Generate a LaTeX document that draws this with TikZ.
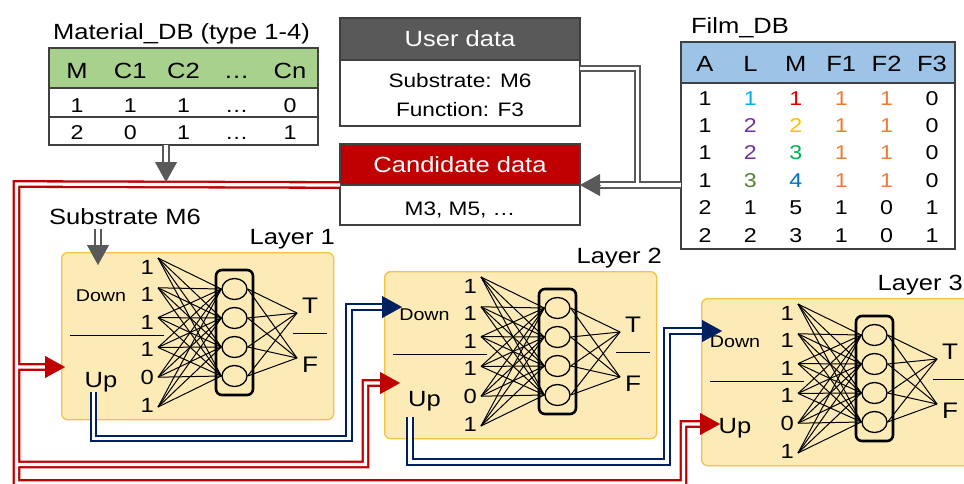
\documentclass[tikz,border=0pt]{standalone}
\usepackage{fontspec}
\setmainfont{Liberation Sans}[FakeStretch=1.16]
\usetikzlibrary{positioning,arrows.meta,shapes.geometric}

\definecolor{cred}{HTML}{C00000}
\definecolor{cgray}{HTML}{595959}
\definecolor{cblue}{HTML}{002060}
\definecolor{cframe}{HTML}{404040}
\definecolor{cgreen}{HTML}{A9D18E}
\definecolor{clblue}{HTML}{9DC3E6}
\definecolor{cyel}{HTML}{FDEBB7}
\definecolor{cgold}{HTML}{F5C242}
\definecolor{vcyan}{HTML}{00B0F0}
\definecolor{vred}{HTML}{E00000}
\definecolor{vorange}{HTML}{ED7D31}
\definecolor{vpurple}{HTML}{7030A0}
\definecolor{vgold}{HTML}{FFC000}
\definecolor{vgreen}{HTML}{00B050}
\definecolor{vdkgreen}{HTML}{548235}
\definecolor{vblue}{HTML}{0070C0}

\newcommand{\fsz}[1]{\fontsize{#1}{#1}\selectfont}

\tikzset{
  txt/.style={inner sep=0pt, anchor=base},
  cell/.style={draw=cframe, line width=1.3pt, inner sep=0pt, outer sep=0pt},
  dbl/.style={line width=2.3pt, double=white, double distance=3.2pt},
  reddbl/.style={dbl, draw=cred},
  bluedbl/.style={dbl, draw=cblue},
  graydbl/.style={dbl, draw=cgray},
  headtip/.style={line width=0.4pt, -{Triangle[length=20pt,width=22pt]}},
  layerbox/.style={draw=cgold, fill=cyel, line width=1.3pt, rounded corners=6pt,
    minimum width=272pt, minimum height=167pt, inner sep=0pt, anchor=north west},
  hidbox/.style={draw, line width=2.6pt, rounded corners=6pt,
    minimum width=37pt, minimum height=125pt, inner sep=0pt},
  hunit/.style={ellipse, draw, line width=1.3pt, minimum width=25pt,
    minimum height=21pt, inner sep=0pt},
  fan/.style={line width=1pt},
}

\begin{document}
\begin{tikzpicture}[x=1pt, y=-1pt]
  \useasboundingbox (0,0) rectangle (964,483);
  \clip (0,0) rectangle (964,483);

  % Material_DB
  \node[txt, font=\fsz{22}] (mtitle) at (181.5,39) {Material\_DB (type 1-4)};
  \node[cell, fill=cgreen, minimum width=269pt, minimum height=40pt, anchor=north west] (mhead) at (49,48) {};
  \node[cell, minimum width=269pt, minimum height=29pt, below=0pt of mhead] (mrow1) {};
  \node[cell, minimum width=269pt, minimum height=28pt, below=0pt of mrow1] (mrow2) {};
  \foreach \hd [count=\j] in {M,C1,C2,…,Cn}
    \node[txt, font=\fsz{22}] (mh\j) at ({77+(\j-1)*53.25},78) {\hd};
  \foreach \row [count=\k] in {{1,1,1,…,0},{2,0,1,…,1}}
    \foreach \val [count=\j] in \row
      \node[txt, font=\fsz{20}] (mr\k-\j) at ({77+(\j-1)*53.25},{112+(\k-1)*27.5}) {\val};

  % Film_DB
  \node[txt, font=\fsz{22}] (ftitle) at (740,33) {Film\_DB};
  \node[cell, fill=clblue, minimum width=274pt, minimum height=41pt, anchor=north west] (fhead) at (681,42) {};
  \node[cell, minimum width=274pt, minimum height=166pt, below=0pt of fhead] (fbody) {};
  \foreach \hd [count=\j] in {A,L,M,F1,F2,F3}
    \node[txt, font=\fsz{22}] (fh\j) at ({705+(\j-1)*45.4},71) {\hd};
  \foreach \row [count=\k] in {
      {1/black,1/vcyan,1/vred,1/vorange,1/vorange,0/black},
      {1/black,2/vpurple,2/vgold,1/vorange,1/vorange,0/black},
      {1/black,2/vpurple,3/vgreen,1/vorange,1/vorange,0/black},
      {1/black,3/vdkgreen,4/vblue,1/vorange,1/vorange,0/black},
      {2/black,1/black,5/black,1/black,0/black,1/black},
      {2/black,2/black,3/black,1/black,0/black,1/black}}
    \foreach \val/\col [count=\j] in \row
      \node[txt, font=\fsz{20}, text=\col] (fr\k-\j) at ({705+(\j-1)*45.4},{105+(\k-1)*27.4}) {\val};

  % user and candidate data
  \node[cell, fill=cgray, text=white, font=\fsz{22}, minimum width=240pt, minimum height=42pt, anchor=north west] (udhead) at (340,18) {User data};
  \node[cell, minimum width=240pt, minimum height=66pt, below=0pt of udhead] (udbody) {};
  \node[txt, font=\fsz{19.5}] (udsub) at (460,87) {Substrate: M6};
  \node[txt, font=\fsz{19.5}] (udfun) at (460,116) {Function: F3};
  \node[cell, fill=cred, text=white, font=\fsz{22}, minimum width=240pt, minimum height=41pt, anchor=north west] (cdhead) at (340,144) {Candidate data};
  \node[cell, minimum width=240pt, minimum height=40pt, below=0pt of cdhead] (cdbody) {};
  \node[txt, font=\fsz{19.5}] (cdlist) at (460,215) {M3, M5, …};

  \node[txt, font=\fsz{22}] (sub) at (125,224) {Substrate M6};

  % layers
  \foreach \i/\bx/\by/\tx/\lx in {1/61/252/40/274, 2/384/271/40.5/278, 3/701/298/34/262} {
    \begin{scope}[shift={(\bx,\by)}]
      \node[layerbox] (L\i) at (0,0) {};
      \node[txt, anchor=base east, font=\fsz{22}] (L\i-lbl) at (\lx,-7.5) {Layer \i};
      \node[txt, font=\fsz{17}] (L\i-down) at (\tx,49) {Down};
      \node[txt, font=\fsz{22}] (L\i-up) at (\tx,135) {Up};
      \draw[line width=1pt] (9,83) -- (103,83);
      \foreach \val [count=\k] in {1,1,1,1,0,1} {
        \node[txt, anchor=base east, font=\fsz{20.5}] (L\i-d\k) at (93,{22+(\k-1)*27.6}) {\val};
        \coordinate (L\i-s\k) at (97,{6+(\k-1)*29.8});
      }
      \foreach \j in {1,...,4}
        \node[hunit] (L\i-c\j) at (173.5,{37+(\j-1)*29}) {};
      \coordinate (L\i-oT) at (236,61);
      \coordinate (L\i-oF) at (236,106);
      \foreach \k in {1,...,6} \foreach \j in {1,...,4}
        \draw[fan] (L\i-s\k) -- (L\i-c\j.west);
      \foreach \j in {1,...,4} {
        \draw[fan] (L\i-c\j.east) -- (L\i-oT);
        \draw[fan] (L\i-c\j.east) -- (L\i-oF);
      }
      \node[hidbox] (L\i-h) at (173.5,80.5) {};
      \node[txt, font=\fsz{22.5}] (L\i-T) at (249,61) {T};
      \node[txt, font=\fsz{22.5}] (L\i-F) at (249,120) {F};
      \draw[line width=1pt] (232,81) -- (266,81);
    \end{scope}
  }

  % connectors
  \coordinate (rx) at (16.5,184);
  \coordinate (L1-uin) at (65,367);
  \coordinate (L2-uin) at (400,383);
  \coordinate (L3-uin) at (720,424);
  \coordinate (L2-din) at (402,307);
  \coordinate (L3-din) at (722,331);
  \coordinate (b1s) at (93.5,392);
  \coordinate (b2s) at (410,417);
  \coordinate (mdbtip) at (166,182);
  \coordinate (subtip) at (98,265);

  \draw[reddbl] (cdhead.south west) -- (rx) |- ([xshift=-20pt]L1-uin)
    (rx) |- (365.5,464.5) |- ([xshift=-20pt]L2-uin)
    (rx) |- (683.5,483) |- ([xshift=-20pt]L3-uin);
  \foreach \n in {1,2,3} \draw[headtip, cred] ([xshift=-20pt]L\n-uin) -- (L\n-uin);

  \draw[bluedbl] (b1s) |- (349,438.5) |- ([xshift=-20pt]L2-din)
    (b2s) |- (667,462) |- ([xshift=-20pt]L3-din);
  \foreach \n in {2,3} \draw[headtip, cblue] ([xshift=-20pt]L\n-din) -- (L\n-din);

  \draw[graydbl] (fbody.west |- cdhead.south east) -- ([xshift=20pt]cdhead.south east)
    ([yshift=-8.5pt]udbody.north east) -| (637.5,185);
  \draw[graydbl] (mdbtip |- mrow2.south) -- ([yshift=20pt]mdbtip);
  \draw[graydbl, shorten <=5pt] (subtip |- sub.south) -- ([yshift=20pt]subtip);
  \draw[headtip, cgray] ([xshift=20pt]cdhead.south east) -- (cdhead.south east);
  \draw[headtip, cgray] ([yshift=20pt]mdbtip) -- (mdbtip);
  \draw[headtip, cgray] ([yshift=20pt]subtip) -- (subtip);
\end{tikzpicture}
\end{document}
